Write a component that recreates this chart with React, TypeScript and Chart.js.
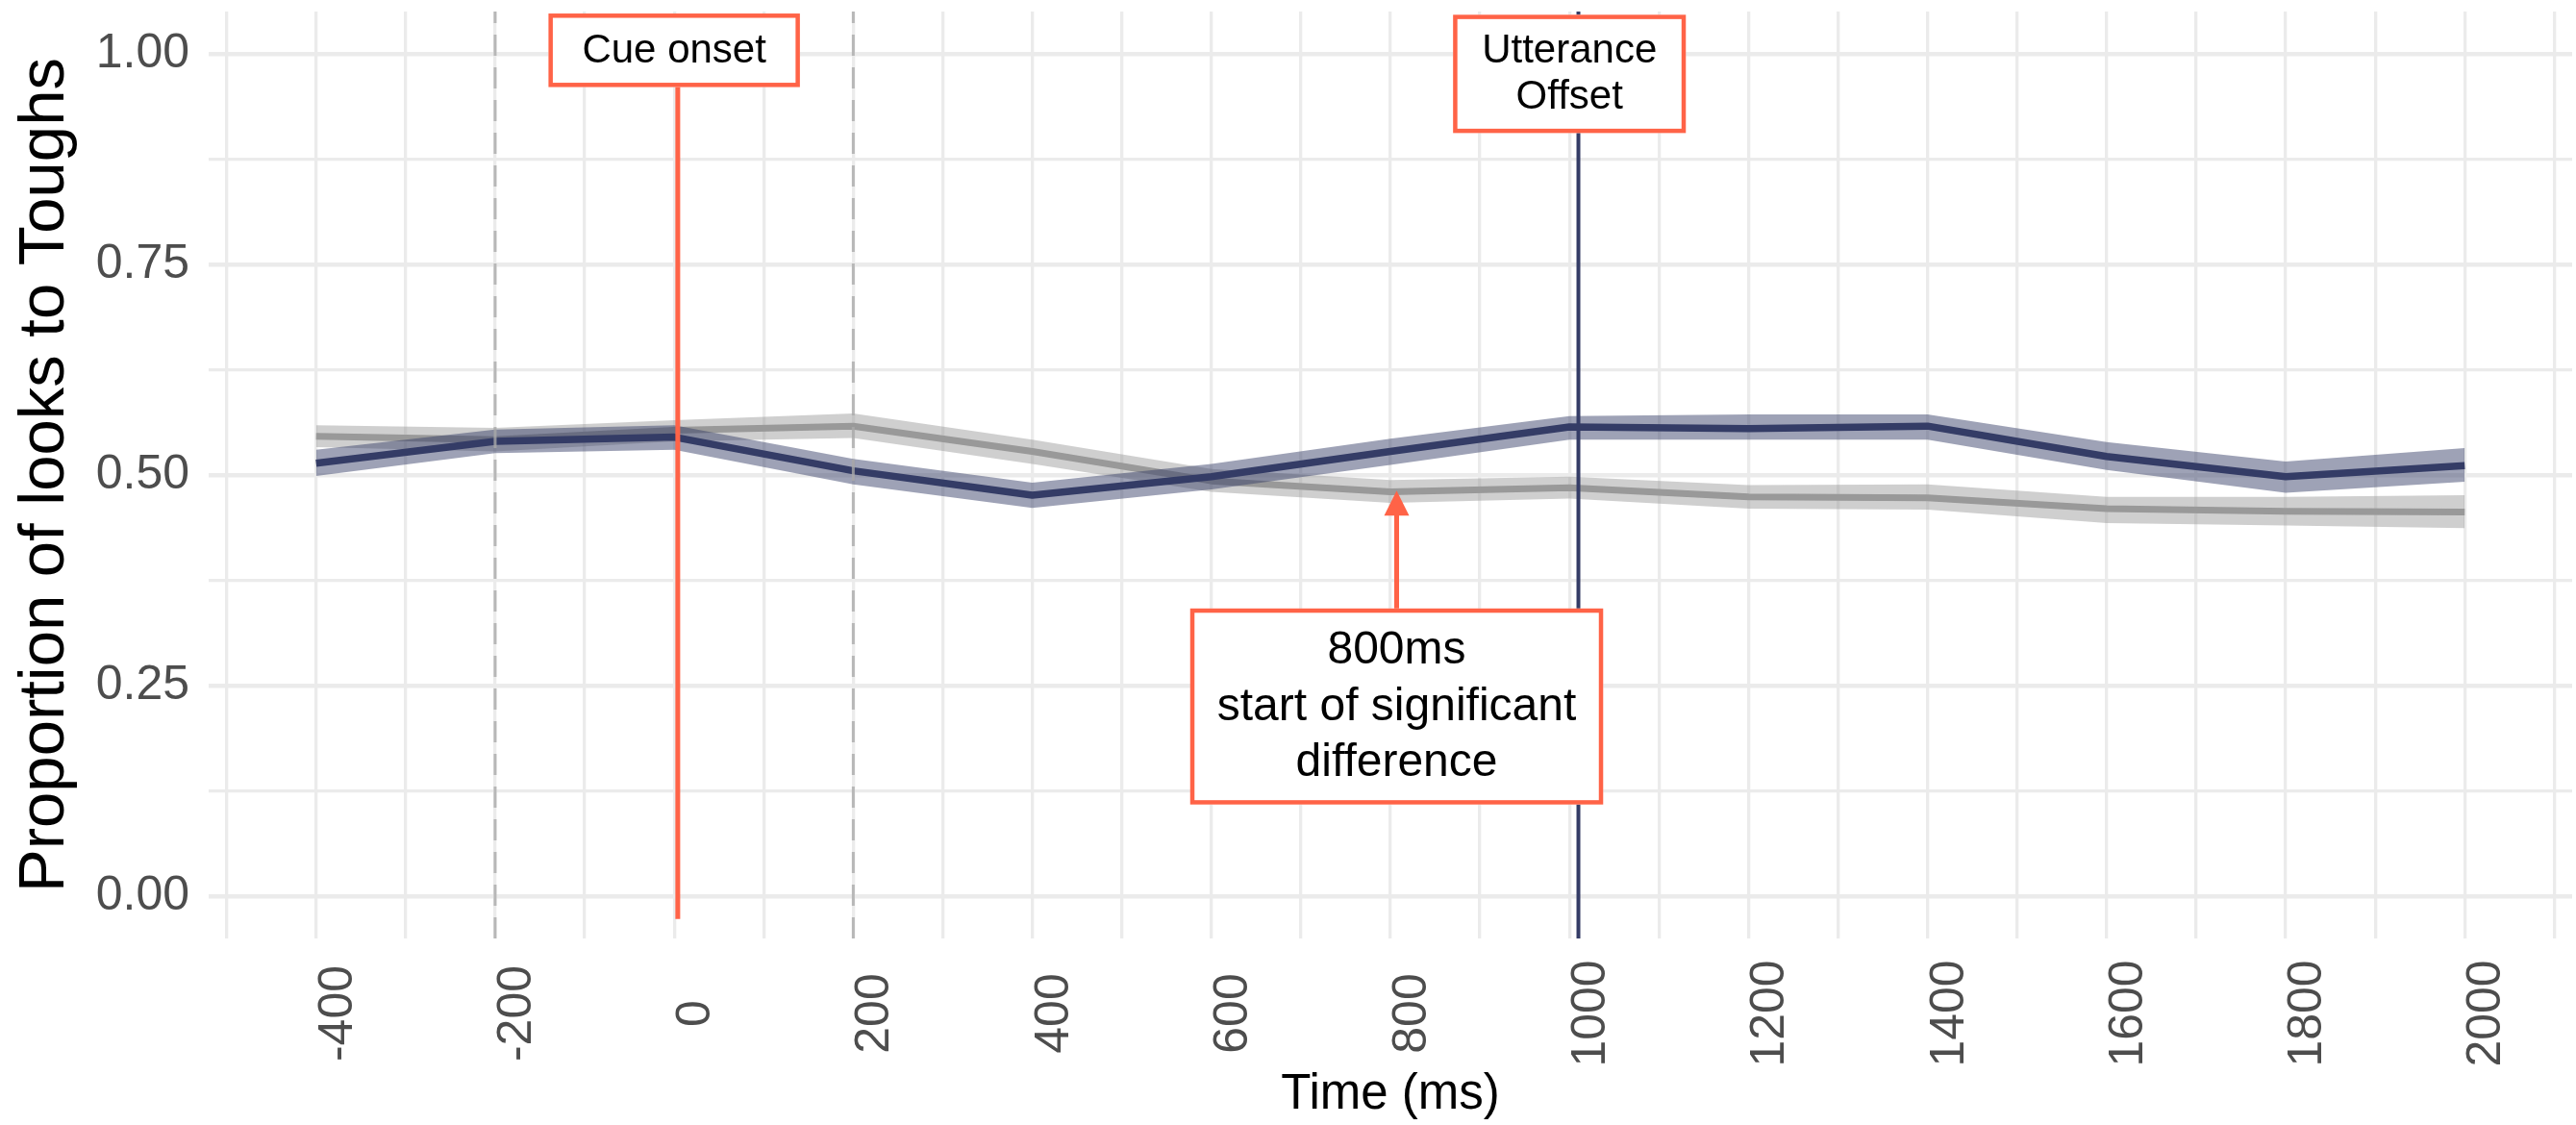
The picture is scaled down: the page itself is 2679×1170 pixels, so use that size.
import React, { useEffect, useRef } from 'react';
import { Chart, registerables } from 'chart.js';

Chart.register(...registerables);

// ---- data ----
const timePoints = [-400, -200, 0, 200, 400, 600, 800, 1000, 1200, 1400, 1600, 1800, 2000];
const navyMean = [0.514, 0.540, 0.545, 0.505, 0.476, 0.498, 0.528, 0.557, 0.555, 0.558, 0.522, 0.498, 0.511];
const navyLower = [0.499, 0.526, 0.530, 0.489, 0.461, 0.483, 0.512, 0.542, 0.542, 0.542, 0.506, 0.479, 0.492];
const navyUpper = [0.530, 0.554, 0.559, 0.519, 0.491, 0.513, 0.543, 0.570, 0.572, 0.572, 0.539, 0.516, 0.532];
const greyMean = [0.546, 0.542, 0.553, 0.558, 0.528, 0.493, 0.480, 0.485, 0.474, 0.473, 0.460, 0.457, 0.456];
const greyLower = [0.533, 0.528, 0.540, 0.544, 0.513, 0.480, 0.467, 0.472, 0.460, 0.459, 0.443, 0.440, 0.437];
const greyUpper = [0.559, 0.556, 0.565, 0.573, 0.542, 0.507, 0.494, 0.498, 0.488, 0.489, 0.474, 0.474, 0.476];

const xTickValues = [-400, -200, 0, 200, 400, 600, 800, 1000, 1200, 1400, 1600, 1800, 2000];
const xTickLabels = ['-400', '-200', '0', '200', '400', '600', '800', '1000', '1200', '1400', '1600', '1800', '2000'];
const yMajorTicks = [0, 0.25, 0.5, 0.75, 1.0];

const dashedTimes = [-200, 200];
const cueOnsetLineTime = 4;
const cueLineFrom = 1.0;
const cueLineTo = -0.027;
const utteranceOffsetLineTime = 1010;
const arrowTime = 807;
const arrowFrom = 0.341;
const arrowTo = 0.4815;

const labelTexts = [['Cue onset'], ['Utterance', 'Offset'], ['800ms', 'start of significant', 'difference']];
const labelTimes = [0, 1000, 807];
const labelValues = [1.004, 0.976, 0.2253];

const FONT = "'Liberation Sans', Arial, Helvetica, sans-serif";
const NAVY = 'rgb(52,60,102)';
const NAVY_FILL = 'rgba(52,60,102,0.48)';
const GREY = '#999999';
const GREY_FILL = 'rgba(153,153,153,0.47)';
const CORAL = '#FF6347';

const isMajor = (v: number) => yMajorTicks.some((m) => Math.abs(m - v) < 1e-6);

const pts = (arr: number[]) => timePoints.map((t, i) => ({ x: t, y: arr[i] }));

const annotationPlugin = {
  id: 'annotations',
  afterDatasetsDraw(chart: any) {
    const { ctx, chartArea, scales } = chart;
    const x = scales.x;
    const y = scales.y;
    ctx.save();
    // dashed grey vertical lines
    ctx.strokeStyle = 'rgba(170,170,170,0.8)';
    ctx.lineWidth = 3;
    ctx.setLineDash([22, 12]);
    for (const t of dashedTimes) {
      const px = x.getPixelForValue(t);
      ctx.beginPath();
      ctx.moveTo(px, chartArea.bottom);
      ctx.lineTo(px, chartArea.top);
      ctx.stroke();
    }
    ctx.setLineDash([]);
    // utterance offset navy line
    {
      const px = x.getPixelForValue(utteranceOffsetLineTime);
      ctx.strokeStyle = NAVY;
      ctx.lineWidth = 4;
      ctx.beginPath();
      ctx.moveTo(px, chartArea.top);
      ctx.lineTo(px, chartArea.bottom);
      ctx.stroke();
    }
    // cue onset coral line
    {
      const px = x.getPixelForValue(cueOnsetLineTime);
      ctx.strokeStyle = CORAL;
      ctx.lineWidth = 5;
      ctx.beginPath();
      ctx.moveTo(px, y.getPixelForValue(cueLineFrom));
      ctx.lineTo(px, y.getPixelForValue(cueLineTo));
      ctx.stroke();
    }
    // arrow
    {
      const px = x.getPixelForValue(arrowTime);
      const yFrom = y.getPixelForValue(arrowFrom);
      const yTip = y.getPixelForValue(arrowTo);
      const headH = 26;
      const headW = 13;
      ctx.strokeStyle = CORAL;
      ctx.fillStyle = CORAL;
      ctx.lineWidth = 5;
      ctx.beginPath();
      ctx.moveTo(px, yFrom);
      ctx.lineTo(px, yTip + headH - 1);
      ctx.stroke();
      ctx.beginPath();
      ctx.moveTo(px, yTip);
      ctx.lineTo(px - headW, yTip + headH);
      ctx.lineTo(px + headW, yTip + headH);
      ctx.closePath();
      ctx.fill();
    }
    // labels
    const sizes = [42, 42, 48];
    const lineHs = [48.5, 48, 58.5];
    const padXs = [35, 30, 28];
    const padYs = [14, 13.5, 14.2];
    labelTexts.forEach((lines, i) => {
      const cx = x.getPixelForValue(labelTimes[i]);
      const cy = y.getPixelForValue(labelValues[i]);
      ctx.font = `${sizes[i]}px ${FONT}`;
      const tw = Math.max(...lines.map((l) => ctx.measureText(l).width));
      const w = tw + 2 * padXs[i];
      const h = lines.length * lineHs[i] + 2 * padYs[i];
      const left = cx - w / 2;
      const top = cy - h / 2;
      ctx.fillStyle = '#FFFFFF';
      ctx.fillRect(left, top, w, h);
      ctx.strokeStyle = CORAL;
      ctx.lineWidth = 4.5;
      ctx.strokeRect(left + 2.25, top + 2.25, w - 4.5, h - 4.5);
      ctx.fillStyle = '#000000';
      ctx.textAlign = 'center';
      ctx.textBaseline = 'middle';
      lines.forEach((l, j) => {
        const ly = cy + (j - (lines.length - 1) / 2) * lineHs[i];
        ctx.fillText(l, cx, ly + 1);
      });
    });
    ctx.restore();
  },
  afterDraw(chart: any) {
    const { ctx, chartArea, scales } = chart;
    const x = scales.x;
    ctx.save();
    ctx.font = `50px ${FONT}`;
    ctx.fillStyle = '#4D4D4D';
    ctx.textAlign = 'center';
    ctx.textBaseline = 'alphabetic';
    xTickValues.forEach((v, i) => {
      const px = x.getPixelForValue(v);
      ctx.save();
      ctx.translate(px + 37, chartArea.bottom + 78);
      ctx.rotate(-Math.PI / 2);
      ctx.fillText(xTickLabels[i], 0, 0);
      ctx.restore();
    });
    ctx.restore();
  },
};

export default function App() {
  const canvasRef = useRef<HTMLCanvasElement | null>(null);

  useEffect(() => {
    if (!canvasRef.current) return;
    const chart = new Chart(canvasRef.current, {
      type: 'line',
      data: {
        datasets: [
          {
            label: 'navy mean',
            data: pts(navyMean),
            borderColor: NAVY,
            borderWidth: 7.5,
            pointRadius: 0,
            fill: false,
            order: 0,
            borderJoinStyle: 'round',
          },
          {
            label: 'navy lower',
            data: pts(navyLower),
            borderColor: 'rgba(0,0,0,0)',
            borderWidth: 0,
            pointRadius: 0,
            fill: false,
            order: 1,
          },
          {
            label: 'navy upper',
            data: pts(navyUpper),
            borderColor: 'rgba(0,0,0,0)',
            borderWidth: 0,
            pointRadius: 0,
            fill: 1,
            backgroundColor: NAVY_FILL,
            order: 1,
          },
          {
            label: 'grey mean',
            data: pts(greyMean),
            borderColor: GREY,
            borderWidth: 7,
            pointRadius: 0,
            fill: false,
            order: 2,
            borderJoinStyle: 'round',
          },
          {
            label: 'grey lower',
            data: pts(greyLower),
            borderColor: 'rgba(0,0,0,0)',
            borderWidth: 0,
            pointRadius: 0,
            fill: false,
            order: 3,
          },
          {
            label: 'grey upper',
            data: pts(greyUpper),
            borderColor: 'rgba(0,0,0,0)',
            borderWidth: 0,
            pointRadius: 0,
            fill: 4,
            backgroundColor: GREY_FILL,
            order: 3,
          },
        ],
      },
      options: {
        animation: false,
        responsive: false,
        maintainAspectRatio: false,
        devicePixelRatio: 1,
        layout: { padding: { top: 12, right: 4, left: 0, bottom: 0 } },
        plugins: {
          legend: { display: false },
          tooltip: { enabled: false },
        },
        elements: { line: { tension: 0 } },
        scales: {
          x: {
            type: 'linear',
            min: -520,
            max: 2120,
            ticks: { stepSize: 100, display: false, includeBounds: false },
            grid: {
              color: '#EBEBEB',
              lineWidth: 3.3,
              drawTicks: false,
            },
            border: { display: false },
            title: {
              display: true,
              text: 'Time (ms)',
              color: '#000000',
              font: { family: FONT, size: 51 },
              padding: { top: 0, bottom: 0 },
            },
            afterFit: (s: any) => {
              s.height = 194;
              s.paddingLeft = 0;
              s.paddingRight = 0;
            },
          },
          y: {
            type: 'linear',
            min: -0.05,
            max: 1.05,
            ticks: {
              stepSize: 0.125,
              includeBounds: false,
              padding: 20,
              color: '#4D4D4D',
              font: { family: FONT, size: 50 },
              callback: (v: any) => (isMajor(Number(v)) ? Number(v).toFixed(2) : ''),
            },
            grid: {
              color: '#EBEBEB',
              lineWidth: (c: any) => (c.tick && isMajor(c.tick.value) ? 4.5 : 3.3),
              drawTicks: false,
            },
            border: { display: false },
            title: {
              display: true,
              text: 'Proportion of looks to Toughs',
              color: '#000000',
              font: { family: FONT, size: 67 },
              padding: { top: 7, bottom: 0 },
            },
            afterFit: (s: any) => {
              s.width = 217;
              s.paddingTop = 0;
              s.paddingBottom = 0;
            },
          },
        },
      },
      plugins: [annotationPlugin],
    } as any);
    return () => chart.destroy();
  }, []);

  return (
    <div style={{ position: 'absolute', left: 0, top: 0, width: 2679, height: 1170, background: '#FFFFFF' }}>
      <canvas ref={canvasRef} width={2679} height={1170} style={{ display: 'block' }} />
    </div>
  );
}
